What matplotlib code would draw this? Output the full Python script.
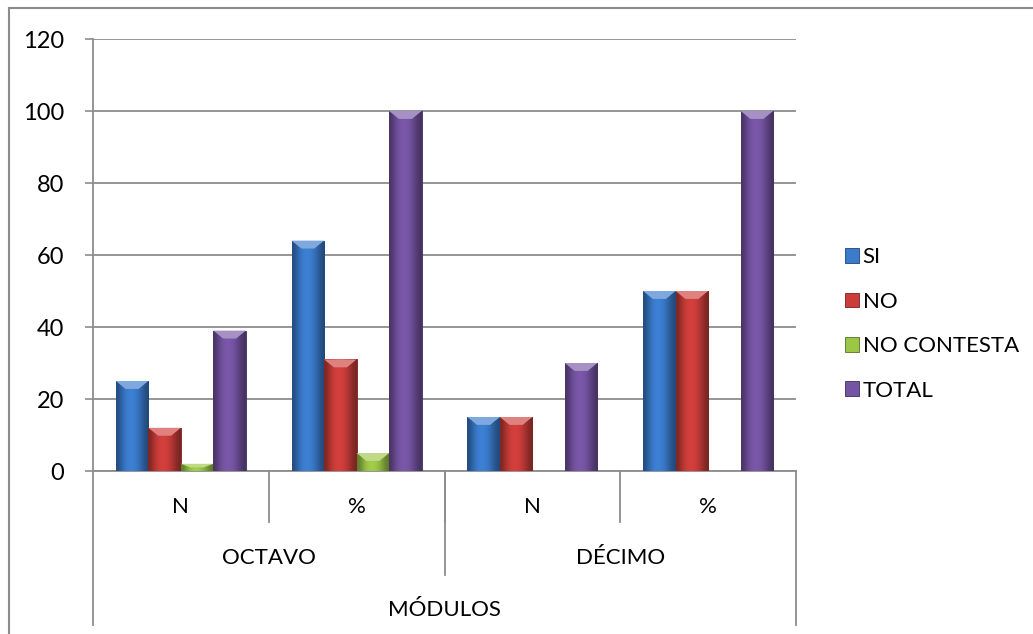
import numpy as np
import matplotlib
matplotlib.use("Agg")
import matplotlib.pyplot as plt
from matplotlib.patches import Patch, Polygon
from matplotlib.colors import to_rgb
import matplotlib.transforms as mtransforms

plt.rcParams['font.family'] = ['Lato', 'DejaVu Sans']

# data
modulos = ["OCTAVO", "DÉCIMO"]
sub_labels = ["N", "%", "N", "%"]
series = ["SI", "NO", "NO CONTESTA", "TOTAL"]
si = [25, 64, 15, 50]
no = [12, 31, 15, 50]
no_contesta = [2, 5, 0, 0]
total = [39, 100, 30, 100]
yticks = [0, 20, 40, 60, 80, 100, 120]

colors = ["#3a7bcc", "#cc3d3a", "#9cc646", "#7654a4"]
GRID = "#8c8c8c"

fig = plt.figure(figsize=(10.33, 6.34), dpi=100)
ax = fig.add_axes([93/1033, 1-471/634, 703/1033, 432/634])

# outer frame (left and top lines only)
fig.add_artist(plt.Line2D([9/1033, 9/1033], [0, 1-8/634], color=GRID, lw=1.5, transform=fig.transFigure))
fig.add_artist(plt.Line2D([9/1033, 1], [1-8/634, 1-8/634], color=GRID, lw=1.5, transform=fig.transFigure))

x = np.arange(len(sub_labels))
w = 0.185
offsets = (np.arange(4) - 1.5) * w
values = [si, no, no_contesta, total]


def shade(c, f):
    r = np.array(to_rgb(c)) * f
    return tuple(np.clip(r, 0, 1))


def lighten(c, f):
    r = np.array(to_rgb(c))
    return tuple(r + (1 - r) * f)


for vals, off, col in zip(values, offsets, colors):
    bars = ax.bar(x + off, vals, w, color=col, edgecolor=shade(col, 0.55), lw=0.6, zorder=3)
    # horizontal gradient to give the bars a rounded look
    prof = np.array([0.62, 0.85, 1.0, 1.05, 1.02, 0.92, 0.75, 0.6])
    grad = np.array([[shade(col, f) for f in prof]])
    for b, v in zip(bars, vals):
        if v <= 0:
            continue
        x0 = b.get_x()
        im = ax.imshow(grad, extent=(x0, x0 + w, 0, v), aspect='auto',
                       interpolation='bicubic', zorder=3.5)
        im.set_clip_path(b)
        # bevel at the top of each bar
        d = min(2.2, v * 0.5)
        inset = w * 0.3
        bevel = Polygon([(x0, v), (x0 + w, v), (x0 + w - inset, v - d), (x0 + inset, v - d)],
                        closed=True, color=lighten(col, 0.35), lw=0, zorder=4)
        ax.add_patch(bevel)

ax.set_xlim(-0.5, 3.5)
ax.set_ylim(0, 120)
ax.set_yticks(yticks)
ax.tick_params(axis='y', length=6, width=1.2, color=GRID, pad=15, labelsize=17)
ax.tick_params(axis='x', length=0, labelbottom=False)
ax.yaxis.grid(True, color=GRID, lw=1.3, zorder=0)
ax.set_axisbelow(True)
for s in ["top", "right"]:
    ax.spines[s].set_visible(False)
for s in ["left", "bottom"]:
    ax.spines[s].set_color(GRID)
    ax.spines[s].set_linewidth(1.3)

# multi-level category axis
trans = mtransforms.blended_transform_factory(ax.transData, ax.transAxes)
for i, lab in enumerate(sub_labels):
    ax.text(x[i], -0.083, lab, transform=trans, ha='center', va='center', fontsize=16)
for xs in x[1:] - 0.5:
    ax.plot([xs, xs], [0, -0.118], transform=trans, color=GRID, lw=1.3, clip_on=False)
for j, lab in enumerate(modulos):
    ax.text(2 * j + 0.5, -0.201, lab, transform=trans, ha='center', va='center', fontsize=16)
ax.plot([1.5, 1.5], [0, -0.241], transform=trans, color=GRID, lw=1.3, clip_on=False)
ax.text(1.5, -0.322, "MÓDULOS", transform=trans, ha='center', va='center', fontsize=16)
for xs in [-0.5, 3.5]:
    ax.plot([xs, xs], [0, -0.356], transform=trans, color=GRID, lw=1.3, clip_on=False)

handles = [Patch(facecolor=c, edgecolor=shade(c, 0.55), lw=0.6) for c in colors]
fig.legend(handles, series, loc='center left', bbox_to_anchor=(836/1033, 1-324/634),
           frameon=False, fontsize=16, handlelength=0.65, handleheight=0.65,
           handletextpad=0.15, labelspacing=1.1, borderaxespad=0)

fig.savefig("out.png", dpi=100)
